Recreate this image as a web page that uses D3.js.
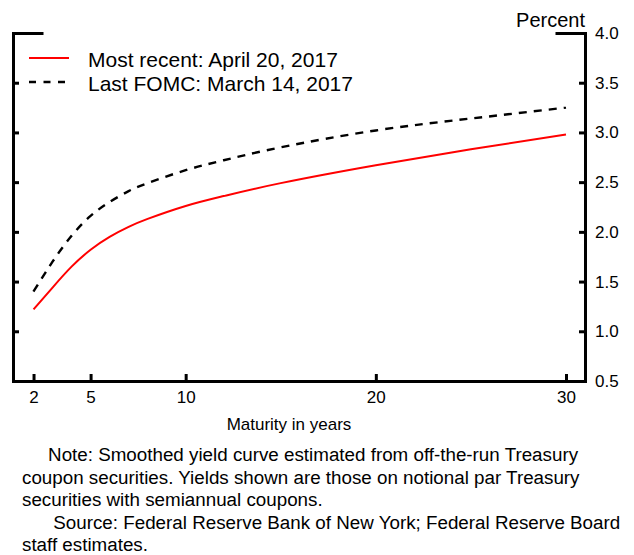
<!DOCTYPE html>
<html>
<head>
<meta charset="utf-8">
<script src="https://cdn.jsdelivr.net/npm/d3@7"></script>
<style>
  html, body { margin: 0; padding: 0; background: #fff; }
  svg { display: block; font-family: "Liberation Sans", Arial, Helvetica, sans-serif; }
</style>
</head>
<body>
<svg id="chart" width="634" height="555"></svg>
<script>
// Maturities (years) at which the smoothed curves are sampled
const maturities = [2, 3, 4, 5, 6, 7, 8, 10, 12, 15, 20, 25, 30];
// Par yields, percent
const recentYields = [1.22, 1.44, 1.65, 1.82, 1.95, 2.05, 2.13, 2.26, 2.36, 2.49, 2.67, 2.83, 2.98];
const fomcYields   = [1.40, 1.70, 1.96, 2.16, 2.30, 2.41, 2.49, 2.62, 2.72, 2.85, 3.02, 3.14, 3.25];

const xTicks = [2, 5, 10, 20, 30];
const yTicks = [0.5, 1.0, 1.5, 2.0, 2.5, 3.0, 3.5, 4.0];

const seriesNames = ["Most recent: April 20, 2017", "Last FOMC: March 14, 2017"];

const noteLines = [
  "     Note: Smoothed yield curve estimated from off-the-run Treasury",
  "coupon securities. Yields shown are those on notional par Treasury",
  "securities with semiannual coupons.",
  "      Source: Federal Reserve Bank of New York; Federal Reserve Board",
  "staff estimates."
];

const svg = d3.select("#chart");

const x = d3.scaleLinear().domain([0.92, 31.0]).range([13, 585]);
const y = d3.scaleLinear().domain([0.5, 4.0]).range([381, 33]);

const frameWidth = 3;

// Left axis: ticks point inward, no labels; outer tick forms the top-left corner piece
const leftAxis = svg.append("g")
  .attr("transform", `translate(${x.range()[0]},0)`)
  .call(d3.axisLeft(y).tickValues(yTicks).tickSizeInner(-6).tickSizeOuter(-29).tickFormat(""));

// Right axis with labels
const rightAxis = svg.append("g")
  .attr("transform", `translate(${x.range()[1]},0)`)
  .call(d3.axisRight(y).tickValues(yTicks).tickSizeInner(-6).tickSizeOuter(-28)
        .tickPadding(10).tickFormat(d3.format(".1f")));

// Bottom axis
const bottomAxis = svg.append("g")
  .attr("transform", `translate(0,${y.range()[0]})`)
  .call(d3.axisBottom(x).tickValues(xTicks).tickSizeInner(-7).tickSizeOuter(0)
        .tickPadding(10).tickFormat(d3.format("d")));

[leftAxis, rightAxis, bottomAxis].forEach(g => {
  g.selectAll("path.domain").attr("stroke", "#000").attr("stroke-width", frameWidth)
    .attr("stroke-linecap", "square");
  g.selectAll(".tick line").attr("stroke", "#000").attr("stroke-width", frameWidth);
  g.selectAll(".tick text").attr("fill", "#000").style("font-size", "17px")
    .style("font-family", "'Liberation Sans', Arial, sans-serif");
});

// Curves
const line = d3.line()
  .x(d => x(d[0]))
  .y(d => y(d[1]))
  .curve(d3.curveNatural);

svg.append("path")
  .datum(maturities.map((m, i) => [m, fomcYields[i]]))
  .attr("fill", "none")
  .attr("stroke", "#000")
  .attr("stroke-width", 2.4)
  .attr("stroke-dasharray", "8,7")
  .attr("d", line);

svg.append("path")
  .datum(maturities.map((m, i) => [m, recentYields[i]]))
  .attr("fill", "none")
  .attr("stroke", "#ff0000")
  .attr("stroke-width", 2)
  .attr("d", line);

// Legend
const legend = svg.append("g").attr("transform", "translate(29,0)");
const legendStyles = [
  { stroke: "#ff0000", width: 2, dash: null, y: 58 },
  { stroke: "#000", width: 2.4, dash: "7,7.5", y: 82 }
];
legendStyles.forEach((s, i) => {
  legend.append("line")
    .attr("x1", 0).attr("x2", 40)
    .attr("y1", s.y).attr("y2", s.y)
    .attr("stroke", s.stroke)
    .attr("stroke-width", s.width)
    .attr("stroke-dasharray", s.dash);
  legend.append("text")
    .attr("x", 59).attr("y", s.y + 9)
    .style("font-size", "21px")
    .text(seriesNames[i]);
});

// Unit label
svg.append("text")
  .attr("x", 585).attr("y", 27)
  .attr("text-anchor", "end")
  .style("font-size", "20px")
  .text("Percent");

// X axis title
svg.append("text")
  .attr("x", 289).attr("y", 430)
  .attr("text-anchor", "middle")
  .style("font-size", "17px")
  .text("Maturity in years");

// Notes
svg.append("g").selectAll("text")
  .data(noteLines)
  .join("text")
  .attr("x", 22)
  .attr("y", (d, i) => 461 + i * 22.5)
  .attr("xml:space", "preserve")
  .style("white-space", "pre")
  .style("font-size", "18.8px")
  .text(d => d);
</script>
</body>
</html>
